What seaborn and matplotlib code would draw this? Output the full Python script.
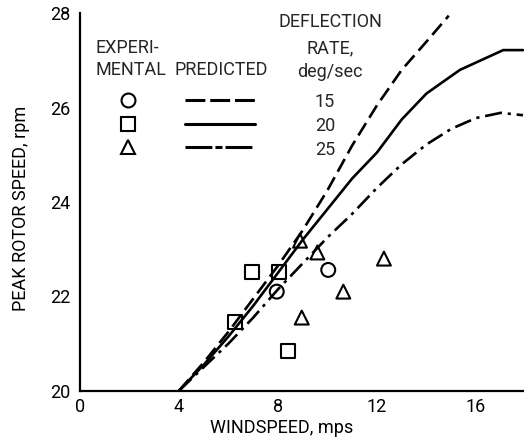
import matplotlib
matplotlib.use("Agg")
import matplotlib.pyplot as plt
from matplotlib.lines import Line2D
import seaborn as sns
import pandas as pd

# ---- data ----
rates = [15, 20, 25]

pred15_x = [4, 5, 6, 7, 8, 9, 10, 11, 12, 13, 14, 14.9]
pred15_y = [20, 20.6, 21.25, 21.95, 22.65, 23.4, 24.25, 25.2, 26.05, 26.8, 27.4, 27.95]

pred20_x = [4, 5, 6, 7, 8, 9, 10, 11, 12, 13, 14, 15.35, 17.1, 17.9]
pred20_y = [20, 20.55, 21.15, 21.8, 22.5, 23.2, 23.85, 24.5, 25.05, 25.75, 26.3, 26.8, 27.22, 27.22]

pred25_x = [4, 5, 6, 7, 8, 9, 10, 11, 12, 13, 14, 15, 16, 17, 17.9]
pred25_y = [20, 20.5, 21.0, 21.55, 22.15, 22.7, 23.25, 23.75, 24.3, 24.8, 25.22, 25.55, 25.78, 25.89, 25.84]

exp15_x = [7.95, 10.03]
exp15_y = [22.1, 22.56]
exp20_x = [6.26, 6.94, 8.05, 8.42]
exp20_y = [21.46, 22.52, 22.52, 20.85]
exp25_x = [8.89, 9.59, 12.28, 10.64, 8.96]
exp25_y = [23.18, 22.93, 22.8, 22.1, 21.55]

x_ticks = [0, 4, 8, 12, 16]
y_ticks = [20, 22, 24, 26, 28]

# ---- tables ----
pred = pd.concat([
    pd.DataFrame({"x": pred15_x, "y": pred15_y, "rate": 15}),
    pd.DataFrame({"x": pred20_x, "y": pred20_y, "rate": 20}),
    pd.DataFrame({"x": pred25_x, "y": pred25_y, "rate": 25}),
], ignore_index=True)
exp = pd.concat([
    pd.DataFrame({"x": exp15_x, "y": exp15_y, "rate": 15}),
    pd.DataFrame({"x": exp20_x, "y": exp20_y, "rate": 20}),
    pd.DataFrame({"x": exp25_x, "y": exp25_y, "rate": 25}),
], ignore_index=True)

sns.set_theme(style="white")
plt.rcParams["font.family"] = ["Roboto", "DejaVu Sans"]
FS = 13

fig = plt.figure(figsize=(5.24, 4.46), dpi=100)
ax = fig.add_axes([80 / 524, 55.3 / 446, 444 / 524, 377.4 / 446])

dash_map = {15: (5.5, 2.4), 20: "", 25: (6.5, 2.2, 1.2, 2.2)}
marker_map = {15: "o", 20: "s", 25: "^"}

sns.lineplot(data=pred, x="x", y="y", style="rate", dashes=dash_map,
             color="black", linewidth=1.9, sort=False, legend=False,
             ax=ax, clip_on=False)
sns.scatterplot(data=exp, x="x", y="y", style="rate", markers=marker_map,
                s=100, facecolor="none", edgecolor="black", linewidth=1.5,
                legend=False, ax=ax, zorder=3)

ax.set_xlim(0, 17.94)
ax.set_ylim(20, 28)
ax.set_xticks(x_ticks)
ax.set_yticks(y_ticks)
ax.set_xticklabels([str(t) for t in x_ticks], fontsize=FS)
ax.set_yticklabels([str(t) for t in y_ticks], fontsize=FS)
ax.tick_params(axis="both", direction="in", length=17, width=1.5,
               color="black", labelcolor="black")
ax.tick_params(axis="y", pad=7)
ax.tick_params(axis="x", pad=5)
for s in ["top", "right"]:
    ax.spines[s].set_visible(False)
for s in ["left", "bottom"]:
    ax.spines[s].set_color("black")
    ax.spines[s].set_linewidth(1.6)

ax.set_xlabel("WINDSPEED, mps", fontsize=FS, color="black")
ax.set_ylabel("PEAK ROTOR SPEED, rpm", fontsize=FS, color="black")
ax.xaxis.set_label_coords(0.453, -0.075)
ax.yaxis.set_label_coords(-0.113, 0.483)

# ---- hand-made key ----
T = ax.transAxes
ax.text(0.034, 0.908, "EXPERI-", transform=T, fontsize=FS, ha="left", va="center")
ax.text(0.034, 0.850, "MENTAL", transform=T, fontsize=FS, ha="left", va="center")
ax.text(0.318, 0.850, "PREDICTED", transform=T, fontsize=FS, ha="center", va="center")
ax.text(0.563, 0.978, "DEFLECTION", transform=T, fontsize=FS, ha="center", va="center")
ax.text(0.563, 0.908, "RATE,", transform=T, fontsize=FS, ha="center", va="center")
ax.text(0.563, 0.845, "deg/sec", transform=T, fontsize=FS, ha="center", va="center")

rows = [0.770, 0.707, 0.645]
key_dash = {15: (0, (6.5, 1.6)), 20: "-", 25: (0, (8.8, 1.0, 2.3, 1.0))}
for r, fy in zip(rates, rows):
    ax.add_line(Line2D([0.108], [fy], transform=T, marker=marker_map[r],
                       markersize=10, markerfacecolor="none",
                       markeredgecolor="black", markeredgewidth=1.5,
                       linestyle="none", clip_on=False))
    ax.add_line(Line2D([0.236, 0.394], [fy, fy], transform=T, color="black",
                       linewidth=2.2, linestyle=key_dash[r], clip_on=False))
    ax.text(0.552, fy - 0.006, str(r), transform=T, fontsize=FS,
            ha="center", va="center")

fig.savefig("out.png", dpi=100)
